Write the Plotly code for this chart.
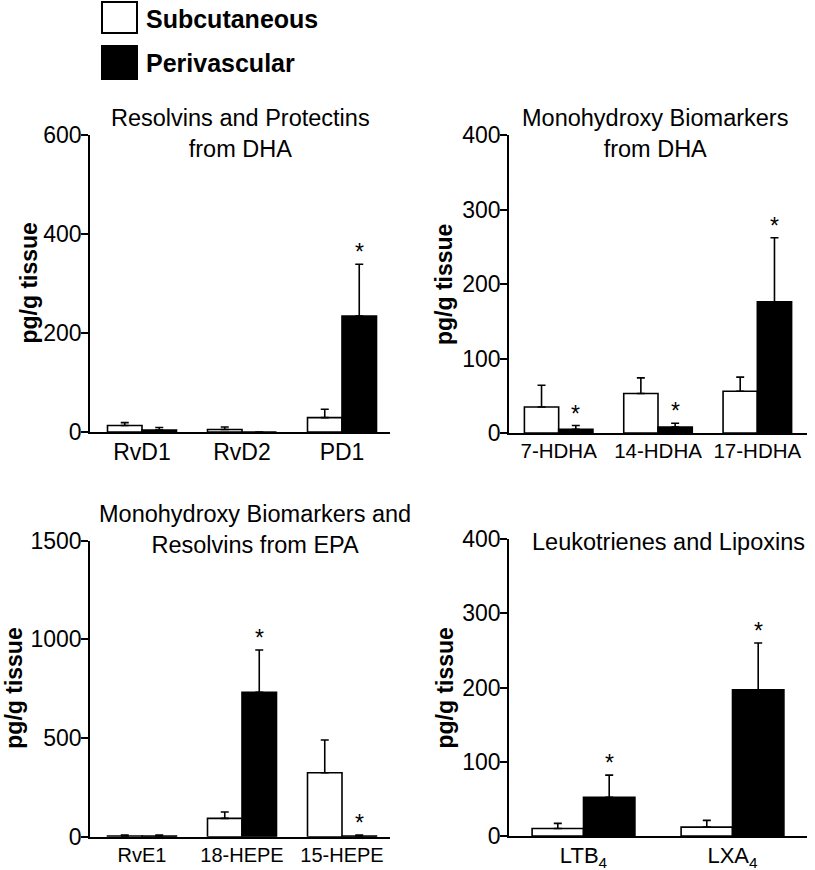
import plotly.graph_objects as go

W, H = 815, 870

# ---------------- data ----------------
cats_a = ["RvD1", "RvD2", "PD1"]
sub_a = [13, 5, 29]
sub_a_err = [6, 5, 17]
peri_a = [4, 0, 234]
peri_a_err = [5, 0, 105]
star_a = [False, False, True]

cats_b = ["7-HDHA", "14-HDHA", "17-HDHA"]
sub_b = [35, 53, 56]
sub_b_err = [29, 21, 19]
peri_b = [5, 8, 176]
peri_b_err = [5, 5, 86]
star_b = [True, True, True]

cats_c = ["RvE1", "18-HEPE", "15-HEPE"]
sub_c = [3, 93, 324]
sub_c_err = [5, 32, 166]
peri_c = [3, 732, 3]
peri_c_err = [5, 214, 5]
star_c = [False, True, True]

cats_d = ["LTB<sub>4</sub>", "LXA<sub>4</sub>"]
sub_d = [10, 12]
sub_d_err = [7, 9]
peri_d = [52, 197]
peri_d_err = [30, 63]
star_d = [True, True]

series_names = ["Subcutaneous", "Perivascular"]
y_title = "pg/g tissue"

FONT = "Liberation Sans, Arial, sans-serif"
BARGAP = 0.31

def px(x):
    return x / W

def py(y):
    return 1 - y / H

# panel layout (pixel boxes): x0, x1, y_bottom, y_top
panels = [
    dict(cats=cats_a, sub=sub_a, sube=sub_a_err, peri=peri_a, perie=peri_a_err, star=star_a,
         box=(90, 390, 432, 135), ymax=600, dtick=200, xr=[-0.52, 2.48], xfs=23,
         ytx=29),
    dict(cats=cats_b, sub=sub_b, sube=sub_b_err, peri=peri_b, perie=peri_b_err, star=star_b,
         box=(509, 807, 433, 135), ymax=400, dtick=100, xr=[-0.5, 2.5], xfs=20.5,
         ytx=444),
    dict(cats=cats_c, sub=sub_c, sube=sub_c_err, peri=peri_c, perie=peri_c_err, star=star_c,
         box=(90, 390, 836.7, 540.7), ymax=1500, dtick=500, xr=[-0.52, 2.48], xfs=20,
         ytx=14),
    dict(cats=cats_d, sub=sub_d, sube=sub_d_err, peri=peri_d, perie=peri_d_err, star=star_d,
         box=(509, 807, 836, 539), ymax=400, dtick=100, xr=[-0.5, 1.5], xfs=22,
         ytx=444),
]

fig = go.Figure()
annotations = []
shapes = []

for i, p in enumerate(panels, start=1):
    sfx = "" if i == 1 else str(i)
    xa, ya = "x" + sfx, "y" + sfx
    n = len(p["cats"])
    fig.add_trace(go.Bar(
        x=p["cats"], y=p["sub"], name=series_names[0], showlegend=False,
        xaxis=xa, yaxis=ya,
        marker=dict(color="white", line=dict(color="black", width=1.6)),
        error_y=dict(type="data", array=p["sube"], arrayminus=[0] * n, symmetric=False,
                     color="black", thickness=1.6, width=4),
    ))
    fig.add_trace(go.Bar(
        x=p["cats"], y=p["peri"], name=series_names[1], showlegend=False,
        xaxis=xa, yaxis=ya,
        marker=dict(color="black", line=dict(color="black", width=1.6)),
        error_y=dict(type="data", array=p["perie"], arrayminus=[0] * n, symmetric=False,
                     color="black", thickness=1.6, width=4),
    ))
    x0, x1, yb, yt = p["box"]
    fig.layout["xaxis" + sfx] = dict(
        domain=[px(x0), px(x1)], anchor=ya, range=p["xr"], type="category",
        showline=True, linecolor="black", linewidth=1.6, ticks="", showgrid=False,
        zeroline=False, automargin=False,
        tickfont=dict(family=FONT, size=p["xfs"], color="black"),
        ticklabelstandoff=-1,
    )
    fig.layout["yaxis" + sfx] = dict(
        domain=[py(yb), py(yt)], anchor=xa, range=[0, p["ymax"]], dtick=p["dtick"],
        showline=True, linecolor="black", linewidth=1.6, ticks="outside", ticklen=7,
        tickwidth=1.6, tickcolor="black", showgrid=False, zeroline=False,
        automargin=False, ticklabelstandoff=-5,
        tickfont=dict(family=FONT, size=23, color="black"),
    )
    # y axis title
    annotations.append(dict(
        xref="paper", yref="paper", x=px(p["ytx"]), y=py((yb + yt) / 2),
        text="<b>" + y_title + "</b>", textangle=-90, showarrow=False,
        xanchor="center", yanchor="middle",
        font=dict(family=FONT, size=23, color="black"),
    ))
    # significance stars
    span = p["xr"][1] - p["xr"][0]
    cat_px = (x1 - x0) / span
    half_off = cat_px * (1 - BARGAP) / 4
    for c, v, e, s in zip(p["cats"], p["peri"], p["perie"], p["star"]):
        if s:
            annotations.append(dict(
                xref=xa, yref=ya, x=c, y=v + e, text="*", showarrow=False,
                xanchor="center", yanchor="middle", xshift=half_off, yshift=12,
                font=dict(family=FONT, size=23, color="black"),
            ))

# panel titles
titles = [
    ("Resolvins and Protectins<br>from DHA", 240, 133),
    ("Monohydroxy Biomarkers<br>from DHA", 655, 133.5),
    ("Monohydroxy Biomarkers and<br>Resolvins from EPA", 255, 529),
    ("Leukotrienes and Lipoxins", 668, 541.7),
]
for t, tx, ty in titles:
    annotations.append(dict(
        xref="paper", yref="paper", x=px(tx), y=py(ty), text=t, showarrow=False,
        xanchor="center", yanchor="middle", align="center",
        font=dict(family=FONT, size=23.5, color="black"),
    ))

# legend (drawn manually to match large swatches)
legend_items = [(series_names[0], "white", 2, 33, 19), (series_names[1], "black", 46, 79, 63)]
for name, col, y0, y1, yc in legend_items:
    shapes.append(dict(type="rect", xref="paper", yref="paper",
                       x0=px(102), x1=px(137), y0=py(y1), y1=py(y0),
                       fillcolor=col, line=dict(color="black", width=2)))
    annotations.append(dict(
        xref="paper", yref="paper", x=px(144), y=py(yc), text="<b>" + name + "</b>",
        showarrow=False, xanchor="left", yanchor="middle",
        font=dict(family=FONT, size=25, color="black"),
    ))

fig.update_layout(
    width=W, height=H, autosize=False,
    margin=dict(l=0, r=0, t=0, b=0, autoexpand=False),
    paper_bgcolor="white", plot_bgcolor="white",
    barmode="group", bargap=BARGAP, bargroupgap=0,
    annotations=annotations, shapes=shapes,
    font=dict(family=FONT, color="black"),
)

fig.write_html(
    "out.html",
    config={"displayModeBar": False},
    post_script="document.body.style.margin='0px';document.body.style.overflow='hidden';",
)
